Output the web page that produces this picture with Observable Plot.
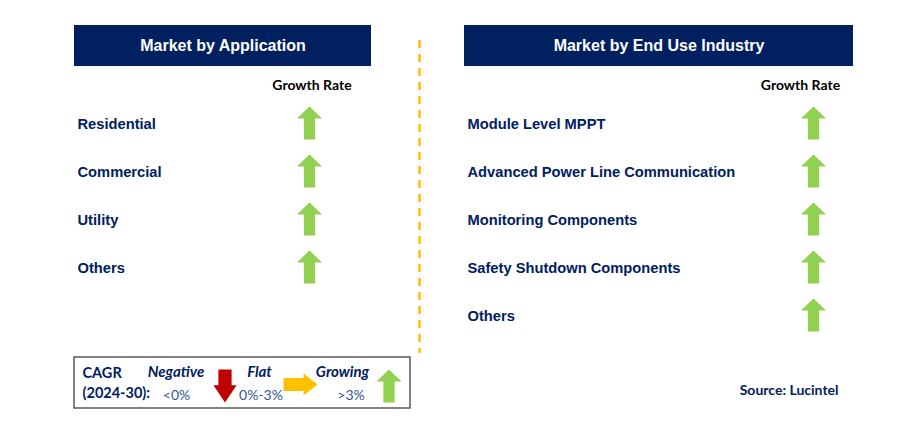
<!DOCTYPE html>
<html>
<head>
<meta charset="utf-8">
<script src="https://cdn.jsdelivr.net/npm/d3@7"></script>
<script src="https://cdn.jsdelivr.net/npm/@observablehq/plot@0.6"></script>
<style>
  html, body { margin: 0; padding: 0; background: #ffffff; }
  #chart svg { display: block; }
</style>
</head>
<body>
<div id="chart"></div>
<script>
// ---- data ----
const panelTitles = ["Market by Application", "Market by End Use Industry"];
const columnHeader = "Growth Rate";
const appCategories = ["Residential", "Commercial", "Utility", "Others"];
const appGrowth = ["Growing", "Growing", "Growing", "Growing"];
const endUseCategories = ["Module Level MPPT", "Advanced Power Line Communication", "Monitoring Components", "Safety Shutdown Components", "Others"];
const endUseGrowth = ["Growing", "Growing", "Growing", "Growing", "Growing"];
const legendTitle = ["CAGR", "(2024-30):"];
const legendLevels = ["Negative", "Flat", "Growing"];
const legendRanges = ["<0%", "0%-3%", ">3%"];
const sourceText = "Source: Lucintel";

// ---- style ----
const NAVY = "#002060";
const GREEN = "#92d050";
const RED = "#c00000";
const YELLOW = "#ffc000";
const LEGEND_BLUE = "#2f5597";
const ARIAL = "Liberation Sans, Arial, sans-serif";
const CAL = "Lato, Carlito, Calibri, sans-serif";

// layout
const W = 917, H = 434;
const panels = [
  {x1: 74, x2: 371, labelX: 77, arrowX: 309, headerX: 311.5},
  {x1: 464, x2: 853, labelX: 467, arrowX: 813, headerX: 800}
];
const rowY0 = 124, rowStep = 48;

// arrow symbol: dir "up" | "down" | "right"; proportions relative to half-length h
function arrowSymbol(dir, headHalf, headLen, shaftHalf) {
  return {
    draw(ctx, size) {
      const h = Math.sqrt(size / Math.PI);
      const hw = headHalf * h, hl = headLen * h, sw = shaftHalf * h;
      let pts = [[0, -h], [hw, -h + hl], [sw, -h + hl], [sw, h], [-sw, h], [-sw, -h + hl], [-hw, -h + hl]];
      if (dir === "down") pts = pts.map(([a, b]) => [a, -b]);
      if (dir === "right") pts = pts.map(([a, b]) => [-b, a]);
      ctx.moveTo(pts[0][0], pts[0][1]);
      for (let i = 1; i < pts.length; i++) ctx.lineTo(pts[i][0], pts[i][1]);
      ctx.closePath();
    }
  };
}
const upArrow = arrowSymbol("up", 0.76, 0.73, 0.34);
const downArrow = arrowSymbol("down", 0.70, 1.05, 0.40);
const rightArrow = arrowSymbol("right", 0.65, 0.82, 0.38);
const arrowFor = {Growing: upArrow, Negative: downArrow, Flat: rightArrow};
const colorFor = {Growing: GREEN, Negative: RED, Flat: YELLOW};

const rows = [
  ...appCategories.map((c, i) => ({panel: 0, label: c, growth: appGrowth[i], i})),
  ...endUseCategories.map((c, i) => ({panel: 1, label: c, growth: endUseGrowth[i], i}))
];
rows.forEach(d => {
  d.lx = panels[d.panel].labelX;
  d.ax = panels[d.panel].arrowX;
  d.y = rowY0 + rowStep * d.i;
});

const legendX = [175.5, 259, 342];
const legendRangeX = [176, 260.5, 350.5];
const legendArrowX = [224.5, 300, 388.5];
const legendArrowY = [385.5, 384, 385.5];
const legend = legendLevels.map((l, i) => ({level: l, range: legendRanges[i], x: legendX[i], rx: legendRangeX[i], ax: legendArrowX[i], ay: legendArrowY[i]}));

const headers = panelTitles.map((t, i) => ({title: t, x1: panels[i].x1, x2: panels[i].x2, gx: panels[i].headerX}));

const marks = [
  // header bars
  Plot.rect(headers, {x1: "x1", x2: "x2", y1: 25, y2: 66, fill: NAVY}),
  Plot.text(headers, {x: d => (d.x1 + d.x2) / 2, y: 45.5, text: "title", fill: "white", fontFamily: ARIAL, fontWeight: "bold", fontSize: 16, textAnchor: "middle", lineAnchor: "middle"}),
  Plot.text(headers, {x: "gx", y: 85, text: () => columnHeader, fill: "black", fontFamily: CAL, fontWeight: "bold", fontSize: 14, textAnchor: "middle", lineAnchor: "middle"}),
  // divider
  Plot.ruleX([419], {y1: 40, y2: 353, stroke: YELLOW, strokeWidth: 2.5, strokeDasharray: "8,6"}),
  // row labels
  Plot.text(rows, {x: "lx", y: "y", text: "label", fill: NAVY, fontFamily: ARIAL, fontWeight: "bold", fontSize: 14.7, textAnchor: "start", lineAnchor: "middle"}),
  // row arrows
  ...Object.keys(arrowFor).map(g => Plot.dot(rows.filter(d => d.growth === g), {x: "ax", y: d => d.y - 1.5, symbol: arrowFor[g], r: 16.5, fill: colorFor[g], stroke: "none"})),
  // legend box
  Plot.rect([0], {x1: 74, x2: 410, y1: 357, y2: 408, fill: "none", stroke: "#595959", strokeWidth: 1.5}),
  Plot.text(legendTitle, {x: 82, y: (d, i) => 373 + i * 20, text: d => d, fill: NAVY, fontFamily: CAL, fontWeight: "bold", fontSize: 14.5, textAnchor: "start", lineAnchor: "middle"}),
  Plot.text(legend, {x: "x", y: 372, text: "level", fill: NAVY, fontFamily: CAL, fontWeight: "bold", fontStyle: "italic", fontSize: 15, textAnchor: "middle", lineAnchor: "middle"}),
  Plot.text(legend, {x: "rx", y: 395, text: "range", fill: LEGEND_BLUE, fontFamily: CAL, fontSize: 14, textAnchor: "middle", lineAnchor: "middle"}),
  Plot.dot(legend.filter(d => d.level === "Negative"), {x: "ax", y: "ay", symbol: downArrow, r: 16.5, fill: RED, stroke: "none"}),
  Plot.dot(legend.filter(d => d.level === "Flat"), {x: "ax", y: "ay", symbol: rightArrow, r: 17, fill: YELLOW, stroke: "none"}),
  Plot.dot(legend.filter(d => d.level === "Growing"), {x: "ax", y: "ay", symbol: upArrow, r: 16.5, fill: GREEN, stroke: "none"}),
  // source
  Plot.text([sourceText], {x: 838, y: 390, text: d => d, fill: NAVY, fontFamily: CAL, fontWeight: "bold", fontSize: 14, textAnchor: "end", lineAnchor: "middle"})
];

const chart = Plot.plot({
  width: W,
  height: H,
  margin: 0,
  style: {background: "white", overflow: "visible"},
  x: {domain: [0, W], range: [0, W], axis: null},
  y: {domain: [0, H], range: [0, H], axis: null},
  marks
});
document.getElementById("chart").appendChild(chart);
</script>
</body>
</html>
